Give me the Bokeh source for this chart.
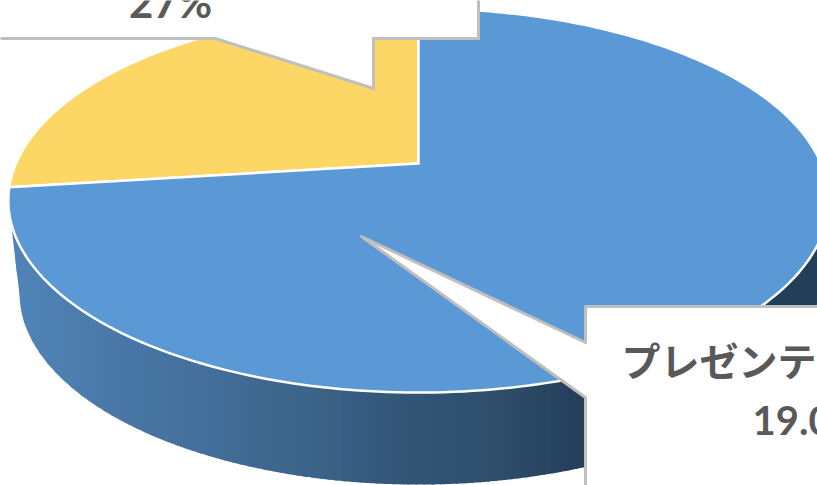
import numpy as np
from bokeh.core.properties import value
from bokeh.embed import file_html
from bokeh.models import Range1d
from bokeh.plotting import figure
from bokeh.resources import INLINE

# Pie data
slice_shares = [27, 73]
slice_colors = ["#FCD766", "#5B99D6"]
share_text = "27%"
category_text = "プレゼンテーション"
category_value_text = "19.0"

# Geometry of the tilted disc, in page pixels
APEX_X, APEX_Y = 418.0, 163.0
RADIUS = 402.5
TILT_A, TILT_C = 153.5, -0.1927
DEPTH = 92.0
LOWER_SCALE = 0.973

# Colour stops of the shaded rim
rim_x = [10, 100, 200, 300, 400, 500, 585, 830]
rim_r = [0x50, 0x4A, 0x43, 0x3D, 0x33, 0x2D, 0x24, 0x23]
rim_g = [0x84, 0x7A, 0x6F, 0x64, 0x56, 0x4D, 0x3E, 0x3F]
rim_b = [0xB9, 0xA9, 0x9B, 0x89, 0x77, 0x6B, 0x5A, 0x58]


def project(theta):
    """Map an angle measured counter-clockwise from 12 o'clock onto the tilted disc."""
    s = -np.cos(theta)
    w = 1 + TILT_C * s
    return APEX_X - RADIUS * np.sin(theta) / w, (TILT_A * s + APEX_Y) / w


def slice_outline(start, stop):
    theta = np.linspace(start, stop, 240)
    x, y = project(theta)
    return np.r_[APEX_X, x], np.r_[APEX_Y, y]


p = figure(
    width=817, height=485, output_backend="svg", toolbar_location=None,
    x_range=Range1d(0, 817), y_range=Range1d(485, 0),
    x_axis_type=None, y_axis_type=None, min_border=0,
    outline_line_color=None, background_fill_color="white",
)
p.grid.visible = False

# Rim: the disc's front silhouette, filled with narrow shaded strips
circle = np.linspace(0, 2 * np.pi, 1441)
ox, oy = project(circle)
front = oy >= 201
order = np.argsort(ox[front])
upper_x, upper_y = ox[front][order], oy[front][order]
disc_mid = (ox.min() + ox.max()) / 2
lower_x = disc_mid + (upper_x - disc_mid) * LOWER_SCALE
lower_y = upper_y + DEPTH
lower_x = np.r_[ox.min(), lower_x, ox.max()]
lower_y = np.r_[oy[np.argmin(ox)], lower_y, oy[np.argmax(ox)]]

edges = np.arange(np.floor(ox.min()), np.ceil(ox.max()) + 8, 8.0)
strip_xs, strip_ys, strip_colors = [], [], []
for a, b in zip(edges[:-1], edges[1:]):
    xs = np.linspace(max(a, ox.min()), min(b + 2, ox.max()), 7)
    top = np.interp(xs, upper_x, upper_y) - 3
    bottom = np.interp(xs, lower_x, lower_y)
    strip_xs.append(np.r_[xs, xs[::-1]])
    strip_ys.append(np.r_[top, bottom[::-1]])
    m = (a + b) / 2
    strip_colors.append("#%02x%02x%02x" % tuple(
        int(round(np.interp(m, rim_x, c))) for c in (rim_r, rim_g, rim_b)))
p.patches(strip_xs, strip_ys, fill_color=strip_colors, line_color=None)

# Top face: one wedge per share, sweeping counter-clockwise from 12 o'clock
stops = np.cumsum([0] + slice_shares) / sum(slice_shares) * 2 * np.pi
for start, stop, color in zip(stops[:-1], stops[1:], slice_colors):
    x, y = slice_outline(start, stop)
    p.patch(x, y, fill_color=color, line_color="white", line_width=2.5, line_join="miter")

# Callout boxes
p.patch([-5, 478, 478, 373, 373, 215, -5], [-5, -5, 38, 38, 88, 38, 38],
        fill_color="white", line_color="#BFBFBF", line_width=3, line_join="miter")
p.patch([585, 830, 830, 585, 585, 361, 585], [306, 306, 495, 495, 397, 236, 342],
        fill_color="white", line_color="#BFBFBF", line_width=3, line_join="round")

# Callout texts
label_style = dict(text_color="#595959", text_font_style="bold", text_baseline="middle")
p.text([170], [1], text=[share_text], text_font=value("Lato"), text_font_size="42px",
       text_align="center", **label_style)
p.text([621], [358], text=[category_text], text_font=value("Noto Sans CJK JP"),
       text_font_size="39px", text_align="left", **label_style)
p.text([752], [420], text=[category_value_text], text_font=value("Lato"),
       text_font_size="40px", text_align="left", **label_style)

open("out.html", "w").write(file_html(p, INLINE))
